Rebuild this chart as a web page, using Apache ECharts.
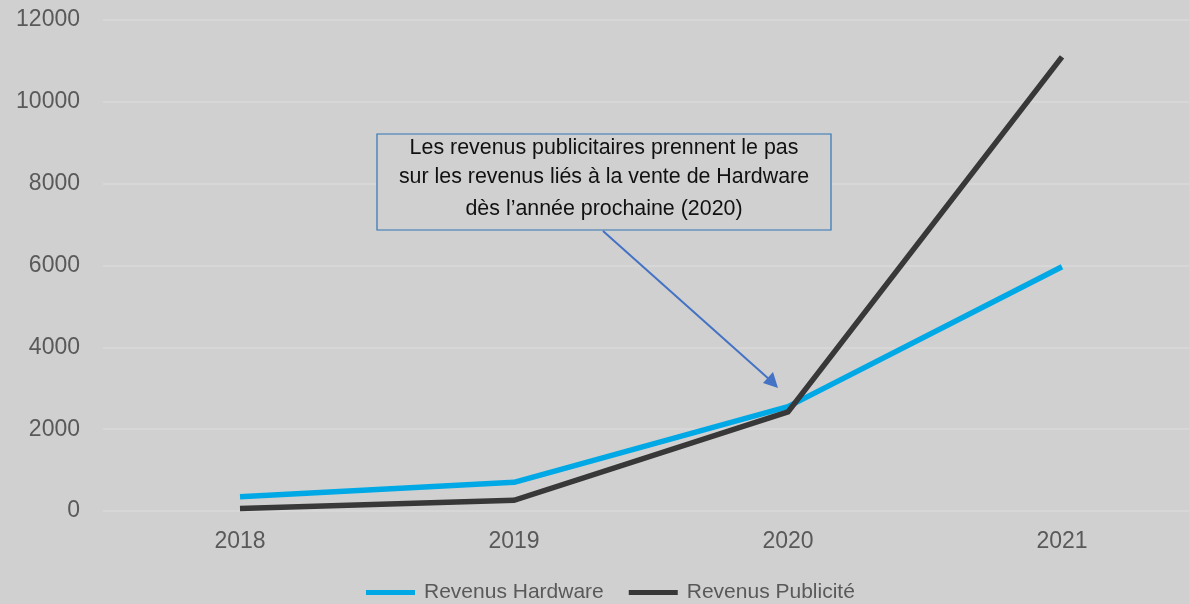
<!DOCTYPE html>
<html>
<head>
<meta charset="utf-8">
<script src="https://cdn.jsdelivr.net/npm/echarts@6/dist/echarts.min.js"></script>
<style>
  html, body { margin: 0; padding: 0; background: #d0d0d0; overflow: hidden; }
  #chart { width: 1199px; height: 604px; }
</style>
</head>
<body>
<div id="chart"></div>
<script>
// données
var years = ["2018", "2019", "2020", "2021"];
var revenusHardware = [350, 700, 2550, 5970];
var revenusPublicite = [60, 260, 2420, 11100];
var yTicks = { min: 0, max: 12000, interval: 2000 };

var font = "Liberation Sans, Arial, sans-serif";

var chart = echarts.init(document.getElementById("chart"));
var option = {
  backgroundColor: "#d0d0d0",
  animation: false,
  // la zone de tracé déborde un peu à droite de la fenêtre, comme sur l'original
  grid: { left: 103, right: 0, top: 20, bottom: 93 },
  legend: {
    bottom: 1,
    left: 366,
    padding: 0,
    icon: "rect",
    itemWidth: 49,
    itemHeight: 5,
    itemGap: 25,
    textStyle: { fontFamily: font, fontSize: 21, color: "#595959", padding: [0, 0, 0, 4] }
  },
  xAxis: {
    type: "category",
    data: years,
    axisLine: { show: false },
    axisTick: { show: false },
    axisLabel: { margin: 19, fontFamily: font, fontSize: 23, color: "#595959" }
  },
  yAxis: {
    type: "value",
    min: yTicks.min,
    max: yTicks.max,
    interval: yTicks.interval,
    axisLine: { show: false },
    axisTick: { show: false },
    axisLabel: {
      margin: 23, fontFamily: font, fontSize: 23, color: "#595959",
      formatter: function (v) { return String(v); }
    },
    splitLine: { lineStyle: { color: "#dadada", width: 1.5 } }
  },
  series: [
    {
      name: "Revenus Hardware",
      type: "line",
      data: revenusHardware,
      symbol: "none",
      color: "#00a9e6",
      lineStyle: { width: 5.5, color: "#00a9e6" }
    },
    {
      name: "Revenus Publicité",
      type: "line",
      data: revenusPublicite,
      symbol: "none",
      color: "#383838",
      lineStyle: { width: 5.5, color: "#383838", join: "miter" }
    }
  ],
  graphic: [
    {
      type: "line",
      shape: { x1: 603, y1: 231, x2: 770, y2: 380 },
      style: { stroke: "#4472c4", lineWidth: 2 },
      z: 10
    },
    {
      // pointe de flèche
      type: "polygon",
      shape: { points: [[778, 388], [763, 383], [773, 372]] },
      style: { fill: "#4472c4" },
      z: 10
    },
    {
      type: "rect",
      shape: { x: 377, y: 134, width: 454, height: 96 },
      style: { fill: "#d0d0d0", stroke: "#2e75b6", lineWidth: 1.2 },
      z: 11
    },
    {
      type: "text",
      x: 604,
      y: 148,
      style: {
        text: "Les revenus publicitaires prennent le pas",
        fontFamily: font, fontSize: 21.4, fill: "#111", align: "center", verticalAlign: "middle"
      },
      z: 12
    },
    {
      type: "text",
      x: 604,
      y: 177,
      style: {
        text: "sur les revenus liés à la vente de Hardware",
        fontFamily: font, fontSize: 21.4, fill: "#111", align: "center", verticalAlign: "middle"
      },
      z: 12
    },
    {
      type: "text",
      x: 604,
      y: 209,
      style: {
        text: "dès l’année prochaine (2020)",
        fontFamily: font, fontSize: 21.4, fill: "#111", align: "center", verticalAlign: "middle"
      },
      z: 12
    }
  ]
};
chart.setOption(option);
</script>
</body>
</html>
